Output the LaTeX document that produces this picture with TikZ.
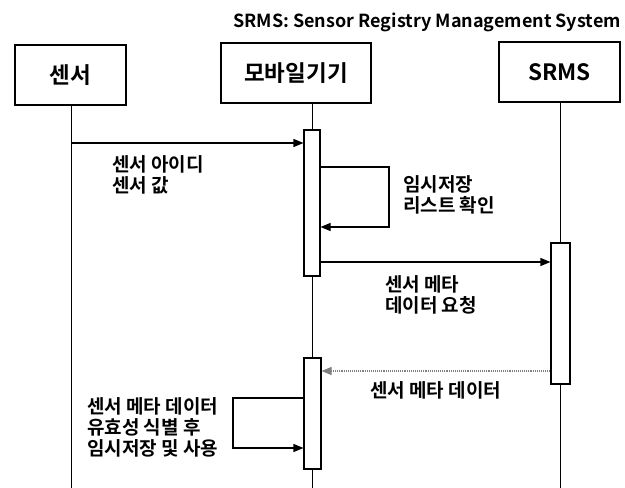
\documentclass[tikz,border=0pt]{standalone}
\usepackage{fontspec}
\setmainfont{Noto Sans CJK KR}[BoldFont={* Bold}]
\usetikzlibrary{arrows.meta}
\tikzset{
  actor/.style={draw, line width=1.1pt, inner sep=0pt, font=\fontsize{22.5}{26}\selectfont\bfseries},
  act/.style={draw, line width=1.1pt, fill=white, inner sep=0pt},
  life/.style={line width=1pt},
  msg/.style={line width=1.1pt, -{Triangle[length=10pt,width=8pt]}},
  ret/.style={line width=1.1pt, gray, densely dotted, -{Triangle[length=10pt,width=8pt]}},
  lbl/.style={align=left, anchor=north west, inner sep=0pt, font=\fontsize{19}{21}\selectfont\bfseries}
}
\begin{document}
\begin{tikzpicture}[x=1pt,y=-1pt]
\useasboundingbox (0,0) rectangle (625,488);
% title
\node[font=\fontsize{18}{22}\selectfont\bfseries] (title) at (427,22) {SRMS: Sensor Registry Management System};
% actors
\node[actor, minimum width=111pt, minimum height=60pt] (sensor) at (70.5,75) {센서};
\node[actor, minimum width=150pt, minimum height=60pt] (mobile) at (296,73) {모바일기기};
\node[actor, minimum width=121pt, minimum height=60pt] (srms) at (559.5,72) {SRMS};
% lifeline coordinates
\coordinate (sTop) at (71,105);
\coordinate (sBot) at (71,488);
\coordinate (mTop) at (312,103);
\coordinate (mBot) at (312,488);
\coordinate (rTop) at (560.5,102);
\coordinate (rBot) at (560.5,488);
\draw[life] (sTop) -- (sBot);
\draw[life] (mTop) -- (mBot);
\draw[life] (rTop) -- (rBot);
% activation bars
\node[act, minimum width=16pt, minimum height=146pt] (a1) at (312,203) {};
\node[act, minimum width=19pt, minimum height=141pt] (a2) at (560.5,313.5) {};
\node[act, minimum width=17pt, minimum height=111pt] (a3) at (312.5,413.5) {};
% message 1
\coordinate (m1s) at (71,143);
\draw[msg] (m1s) -- (m1s -| a1.west);
\node[lbl] (l1) at (112,155) {센서 아이디\\센서 값};
% self loop 1
\coordinate (s1a) at (389,167);
\coordinate (s1b) at (389,227);
\draw[msg] (a1.east |- s1a) -- (s1a) -- (s1b) -- (s1b -| a1.east);
\node[lbl] (l2) at (403,175) {임시저장\\리스트 확인};
% message 2
\coordinate (m2) at (400,262);
\draw[msg] (a1.east |- m2) -- (m2 -| a2.west);
\node[lbl] (l3) at (385,275) {센서 메타\\데이터 요청};
% return
\coordinate (r1) at (450,371);
\draw[ret] (a2.west |- r1) -- (r1 -| a3.east);
\node[lbl] (l4) at (370,381) {센서 메타 데이터};
% self loop 2
\coordinate (s2a) at (233,398);
\coordinate (s2b) at (233,448);
\draw[msg] (a3.west |- s2a) -- (s2a) -- (s2b) -- (s2b -| a3.west);
\node[lbl] (l5) at (87,397) {센서 메타 데이터\\유효성 식별 후\\임시저장 및 사용};
\end{tikzpicture}
\end{document}
